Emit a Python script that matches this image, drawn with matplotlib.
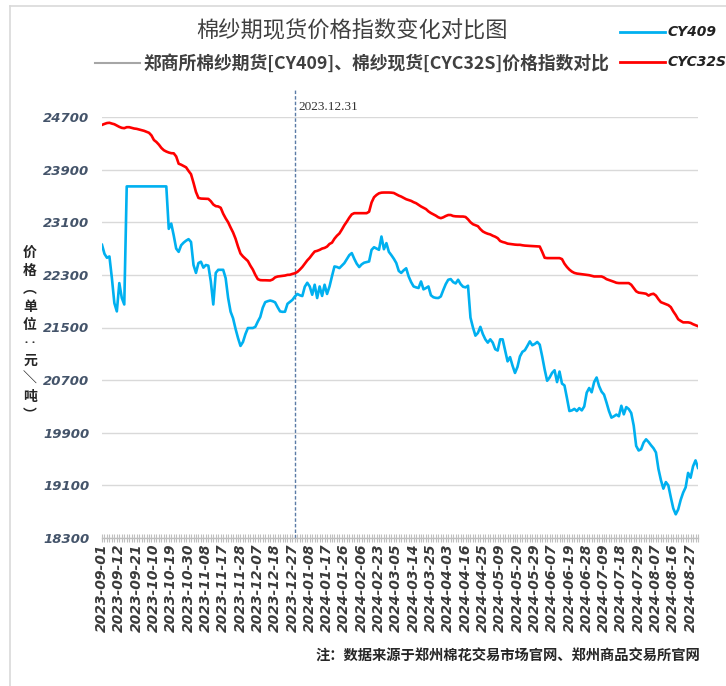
import matplotlib
matplotlib.use("Agg")
import matplotlib.pyplot as plt
from matplotlib.lines import Line2D
from matplotlib.ticker import FixedLocator, NullFormatter
import numpy as np

# ---------------- data ----------------
tick_labels = [
    "2023-09-01", "2023-09-12", "2023-09-21", "2023-10-10", "2023-10-19", "2023-10-30",
    "2023-11-08", "2023-11-17", "2023-11-28", "2023-12-07", "2023-12-18", "2023-12-27",
    "2024-01-08", "2024-01-17", "2024-01-26", "2024-02-06", "2024-02-23", "2024-03-05",
    "2024-03-14", "2024-03-25", "2024-04-03", "2024-04-16", "2024-04-25", "2024-05-09",
    "2024-05-20", "2024-05-29", "2024-06-07", "2024-06-19", "2024-06-28", "2024-07-09",
    "2024-07-18", "2024-07-29", "2024-08-07", "2024-08-16", "2024-08-27",
]
tick_step = 7  # one label every 7 trading days

cyc32s = [
    24580, 24595, 24608, 24612, 24600, 24590, 24570, 24550, 24535, 24530,
    24545, 24545, 24535, 24525, 24520, 24510, 24500, 24490, 24475, 24460,
    24420, 24350, 24320, 24280, 24230, 24195, 24175, 24160, 24150, 24148,
    24100, 23990, 23975, 23955, 23935, 23880, 23830, 23700, 23560, 23470,
    23460, 23458, 23456, 23455, 23420, 23370, 23345, 23340, 23320, 23230,
    23160, 23100, 23020, 22945, 22850, 22730, 22625, 22580, 22545, 22510,
    22440, 22380, 22300, 22235, 22220, 22218, 22218, 22216, 22215, 22230,
    22262, 22275, 22280, 22285, 22290, 22300, 22302, 22315, 22325, 22345,
    22380, 22420, 22470, 22520, 22560, 22610, 22655, 22665, 22680, 22700,
    22710, 22730, 22770, 22790, 22850, 22895, 22930, 22990, 23055, 23110,
    23170, 23220, 23238, 23238, 23238, 23238, 23238, 23238, 23260, 23400,
    23480, 23515, 23540, 23550, 23552, 23552, 23552, 23550, 23545, 23525,
    23505, 23490, 23470, 23450, 23438, 23425, 23405, 23390, 23365, 23340,
    23320, 23300, 23265, 23240, 23220, 23200, 23175, 23162, 23175, 23195,
    23210, 23210, 23195, 23190, 23188, 23187, 23187, 23180, 23145, 23100,
    23070, 23055, 23040, 22995, 22960, 22940, 22925, 22915, 22895, 22880,
    22858, 22815, 22800, 22790, 22775, 22770, 22765, 22760, 22757, 22757,
    22750, 22745, 22742, 22740, 22738, 22735, 22733, 22731, 22650, 22560,
    22555, 22555, 22555, 22555, 22555, 22555, 22540, 22470, 22420, 22380,
    22350, 22330, 22320, 22315, 22310, 22305, 22300, 22295, 22285, 22276,
    22276, 22276, 22276, 22260, 22235, 22222, 22210, 22195, 22180, 22175,
    22175, 22175, 22175, 22175, 22150, 22100, 22050, 22030, 22025, 22020,
    22013, 21985, 22005, 22013, 21985, 21930, 21885, 21870, 21855, 21840,
    21810, 21745, 21690, 21625, 21600, 21578, 21578, 21578, 21570, 21550,
    21535, 21520,
]

cy409 = [
    22757, 22620, 22560, 22580, 22250, 21870, 21745, 22175, 21950, 21850,
    23645, 23645, 23645, 23645, 23645, 23645, 23645, 23645, 23645, 23645,
    23645, 23645, 23645, 23645, 23645, 23645, 23645, 23000, 23080, 22900,
    22700, 22650, 22750, 22790, 22820, 22843, 22800, 22450, 22330, 22480,
    22500, 22410, 22450, 22440, 22200, 21850, 22330, 22377, 22377, 22377,
    22250, 21950, 21740, 21640, 21480, 21340, 21220, 21280, 21400, 21492,
    21492, 21492, 21510, 21590, 21660, 21800, 21885, 21900, 21910, 21900,
    21882, 21810, 21745, 21738, 21740, 21860, 21890, 21920, 21972, 22010,
    21990, 21978, 22120, 22180, 22124, 21998, 22150, 21948, 22124, 21980,
    22150, 22010, 22124, 22280, 22428, 22420, 22403, 22440, 22479, 22540,
    22600, 22631, 22545, 22470, 22419, 22460, 22485, 22495, 22504, 22680,
    22720, 22700, 22681, 22883, 22690, 22783, 22650, 22600, 22545, 22480,
    22360, 22330, 22370, 22400, 22276, 22190, 22124, 22110, 22100, 22200,
    22080, 22100, 22124, 21990, 21960, 21950, 21948, 21972, 22070, 22160,
    22226, 22236, 22190, 22170, 22226, 22160, 22120, 22110, 22135, 21650,
    21500, 21376, 21417, 21510, 21400, 21320, 21270, 21320, 21270, 21170,
    21150, 21320, 21320, 21150, 20985, 21050, 20920, 20809, 20900, 21060,
    21130, 21155, 21220, 21289, 21230, 21250, 21280, 21239, 21060, 20860,
    20690, 20740, 20810, 20850, 20670, 20830, 20647, 20620, 20430, 20230,
    20240, 20263, 20230, 20275, 20240, 20300, 20510, 20580, 20515, 20670,
    20740, 20610, 20525, 20480, 20360, 20230, 20130, 20150, 20176, 20151,
    20310, 20180, 20290, 20260, 20200, 20010, 19700, 19630, 19650, 19750,
    19800, 19760, 19710, 19665, 19600, 19350, 19180, 19050, 19150, 19100,
    18920, 18750, 18660, 18735, 18880, 18990, 19070, 19290, 19216, 19390,
    19480, 19367,
]

y_ticks = [18300, 19100, 19900, 20700, 21500, 22300, 23100, 23900, 24700]
marker_label = "2023.12.31"
marker_index = 78

series_names = ["CY409", "CYC32S"]
title = "棉纱期现货价格指数变化对比图"
subtitle = "郑商所棉纱期货[CY409]、棉纱现货[CYC32S]价格指数对比"
note = "注：数据来源于郑州棉花交易市场官网、郑州商品交易所官网"
ylabel_chars = ["价", "格", "︵", "单", "位", "‥", "元", "＼", "吨", "︶"]

# ---------------- figure ----------------
W, H = 726, 686
fig = plt.figure(figsize=(W / 100, H / 100), dpi=100)
fig.patch.set_facecolor("white")

def fx(px):
    return px / W

def fy(py):
    return 1 - py / H

CJK = ["Noto Sans CJK SC", "DejaVu Sans"]
BLUE = "#00B0F0"
RED = "#FF0000"

# chart border
fig.add_artist(Line2D([fx(10), fx(10)], [fy(6), 0], color="#D9D9D9", lw=1.2))
fig.add_artist(Line2D([fx(10), 1], [fy(6), fy(6)], color="#D9D9D9", lw=1.2))

n = len(cy409)
x = np.arange(n)

ax = fig.add_axes([fx(102), fy(538), fx(698) - fx(102), fy(117) - fy(538)])
ax.set_xlim(0, n - 1)
ax.set_ylim(y_ticks[0], y_ticks[-1])

for s in ["top", "right", "left"]:
    ax.spines[s].set_visible(False)
ax.spines["bottom"].set_color("#BFBFBF")
ax.spines["bottom"].set_linewidth(1.0)

ax.set_yticks(y_ticks)
ax.set_yticklabels([str(v) for v in y_ticks], fontsize=9.5, fontweight="bold",
                   fontstyle="italic", color="#44546A", family="DejaVu Sans")
ax.tick_params(axis="y", length=0, pad=9)
ax.yaxis.grid(True, color="#D9D9D9", lw=1.0)
ax.set_axisbelow(True)

major_pos = [i * tick_step for i in range(len(tick_labels))]
ax.xaxis.set_major_locator(FixedLocator(major_pos))
ax.set_xticklabels(tick_labels, rotation=90, fontsize=10, fontweight="bold",
                   fontstyle="italic", color="#3A3A3A", family="DejaVu Sans")
ax.xaxis.set_minor_locator(FixedLocator(list(x)))
ax.xaxis.set_minor_formatter(NullFormatter())
ax.tick_params(axis="x", which="both", direction="inout", length=6, width=0.8,
               color="#BFBFBF", pad=1)

ax.plot(x, cy409, color=BLUE, lw=1.9, solid_joinstyle="round", zorder=3)
ax.plot(x, cyc32s, color=RED, lw=1.9, solid_joinstyle="round", zorder=3)

# vertical marker
ax.plot([marker_index, marker_index], [y_ticks[0], y_ticks[-1] + 27 * 15.18],
        color="#5B7BA6", lw=1.0, ls=(0, (2.5, 1.5)), clip_on=False, zorder=2)
ax.text(marker_index + 1.3, y_ticks[-1] + 10 * 15.18, marker_label,
        fontsize=9.5, family="Liberation Serif", color="#333333",
        ha="left", va="center", clip_on=False)

# titles
fig.text(fx(352), fy(31), title, fontsize=16, family=CJK, color="#404040",
         ha="center", va="center")
fig.add_artist(Line2D([fx(95), fx(140)], [fy(63), fy(63)], color="#A6A6A6", lw=1.5))
fig.text(fx(143), fy(63), subtitle, fontsize=12.8, family=CJK, fontweight="bold",
         color="#404040", ha="left", va="center")

# legend
fig.add_artist(Line2D([fx(620), fx(665)], [fy(32), fy(32)], color=BLUE, lw=2.0))
fig.add_artist(Line2D([fx(620), fx(665)], [fy(62), fy(62)], color=RED, lw=2.0))
fig.text(fx(668), fy(32), series_names[0], fontsize=10, fontweight="bold",
         fontstyle="italic", family="DejaVu Sans", color="#222222", va="center")
fig.text(fx(668), fy(62), series_names[1], fontsize=10, fontweight="bold",
         fontstyle="italic", family="DejaVu Sans", color="#222222", va="center")

# y label (stacked characters)
y0 = 253
for k, ch in enumerate(ylabel_chars):
    fig.text(fx(30), fy(y0 + k * 18), ch, fontsize=10, family=CJK, fontweight="bold",
             color="#262626", ha="center", va="center")

# note
fig.text(fx(700), fy(657), note, fontsize=10.3, family=CJK, fontweight="bold",
         color="#262626", ha="right", va="center")

fig.savefig("out.png", dpi=100, facecolor="white")
